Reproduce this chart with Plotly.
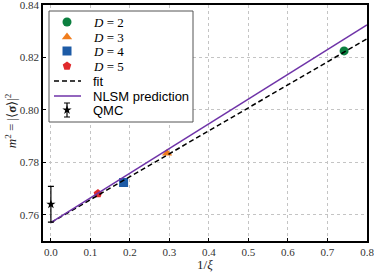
import plotly.graph_objects as go

# data
d_labels = ["2", "3", "4", "5"]
d_x = [0.742, 0.294, 0.184, 0.119]
d_y = [0.8225, 0.7835, 0.7723, 0.7681]
d_symbols = ["circle", "triangle-up", "square", "pentagon"]
d_colors = ["#0b7f3f", "#f07d1d", "#1d5ba6", "#e02a2c"]

fit_x = [0.0, 0.8]
fit_y = [0.7570, 0.8271]
nlsm_x = [0.0, 0.8]
nlsm_y = [0.7570, 0.8324]

qmc_x = [0.0]
qmc_y = [0.7640]
qmc_err = [0.0068]

x_ticks = [0.0, 0.1, 0.2, 0.3, 0.4, 0.5, 0.6, 0.7, 0.8]
y_ticks = [0.76, 0.78, 0.80, 0.82, 0.84]

serif = "Liberation Serif"
sans = "Liberation Sans"
purple = "#6f33a8"
dash_style = "5px,3px"

fig = go.Figure()
for lab, x, y, s, c in zip(d_labels, d_x, d_y, d_symbols, d_colors):
    fig.add_trace(go.Scatter(x=[x], y=[y], mode="markers", showlegend=False,
                             marker=dict(symbol=s, color=c, size=9, line=dict(width=0))))
fig.add_trace(go.Scatter(x=fit_x, y=fit_y, mode="lines", showlegend=False,
                         line=dict(color="black", width=1.5, dash=dash_style)))
fig.add_trace(go.Scatter(x=nlsm_x, y=nlsm_y, mode="lines", showlegend=False,
                         line=dict(color=purple, width=1.5)))
fig.add_trace(go.Scatter(x=qmc_x, y=qmc_y, mode="markers", showlegend=False,
                         marker=dict(symbol="star", color="black", size=7),
                         error_y=dict(type="data", array=qmc_err, color="black",
                                      thickness=1.2, width=3)))

# ---- compact legend drawn on an overlay axis in pixel-like units ----
leg_box = dict(x0=49, x1=193, y0=11, y1=122)
leg_rows = [22, 37, 51, 66, 81, 96, 110]
sym_x = 67
line_x = [54, 81]
text_x = 91
fig.add_trace(go.Scatter(x=[leg_box["x0"], leg_box["x1"], leg_box["x1"], leg_box["x0"], leg_box["x0"]],
                         y=[leg_box["y0"], leg_box["y0"], leg_box["y1"], leg_box["y1"], leg_box["y0"]],
                         xaxis="x2", yaxis="y2", mode="lines", fill="toself",
                         fillcolor="white", line=dict(color="#555", width=1),
                         showlegend=False, hoverinfo="skip"))
for i, (s, c) in enumerate(zip(d_symbols, d_colors)):
    fig.add_trace(go.Scatter(x=[sym_x], y=[leg_rows[i]], xaxis="x2", yaxis="y2",
                             mode="markers", showlegend=False, hoverinfo="skip",
                             marker=dict(symbol=s, color=c, size=9, line=dict(width=0))))
fig.add_trace(go.Scatter(x=line_x, y=[leg_rows[4]] * 2, xaxis="x2", yaxis="y2",
                         mode="lines", showlegend=False, hoverinfo="skip",
                         line=dict(color="black", width=1.5, dash=dash_style)))
fig.add_trace(go.Scatter(x=line_x, y=[leg_rows[5]] * 2, xaxis="x2", yaxis="y2",
                         mode="lines", showlegend=False, hoverinfo="skip",
                         line=dict(color=purple, width=1.5)))
fig.add_trace(go.Scatter(x=[sym_x], y=[leg_rows[6]], xaxis="x2", yaxis="y2",
                         mode="markers", showlegend=False, hoverinfo="skip",
                         marker=dict(symbol="star", color="black", size=7),
                         error_y=dict(type="data", array=[7], color="black",
                                      thickness=1.2, width=3)))
leg_texts = ['<i>D</i> = %s' % l for l in d_labels] + ["fit", "NLSM prediction", "QMC"]
leg_fonts = [serif] * 4 + [sans] * 3
for t, f, yy in zip(leg_texts, leg_fonts, leg_rows):
    fig.add_annotation(text=t, x=text_x, y=yy, xref="x2", yref="y2",
                       xanchor="left", yanchor="middle", showarrow=False,
                       font=dict(family=f, size=13, color="black"))

axis_common = dict(showline=True, linecolor="black", linewidth=1.5, mirror=True,
                   ticks="inside", ticklen=3, tickcolor="black",
                   showgrid=True, gridcolor="#c4c4c4", griddash="dot", gridwidth=1,
                   zeroline=False, automargin=False, ticklabeloverflow="allow",
                   tickfont=dict(family=serif, size=11, color="#333"))

fig.update_xaxes(range=[-0.02, 0.8], tickvals=x_ticks,
                 ticktext=["%.1f" % v for v in x_ticks], **axis_common)
fig.update_yaxes(range=[0.75, 0.84], tickvals=y_ticks,
                 ticktext=["%.2f" % v for v in y_ticks], **axis_common)

fig.add_annotation(text="1/<i>ξ</i>", xref="paper", yref="paper", x=0.5, y=-0.1,
                   xanchor="center", yanchor="middle", showarrow=False,
                   font=dict(family=serif, size=13, color="#222"))
fig.add_annotation(text="<i>m</i><sup>2</sup> = |⟨<b>σ</b>⟩|<sup>2</sup>",
                   xref="paper", yref="paper", x=-0.1, y=0.51, textangle=-90,
                   xanchor="center", yanchor="middle", showarrow=False,
                   font=dict(family=serif, size=13, color="#222"))

fig.update_layout(
    width=374, height=273,
    margin=dict(l=43, r=7, t=5, b=32, autoexpand=False),
    plot_bgcolor="white", paper_bgcolor="white",
    showlegend=False,
    xaxis2=dict(overlaying="x", range=[43, 367], visible=False, fixedrange=True),
    yaxis2=dict(overlaying="y", range=[241, 5], visible=False, fixedrange=True),
)

fig.write_html("out.html", config={"displayModeBar": False},
               post_script="document.body.style.margin='0px';")
